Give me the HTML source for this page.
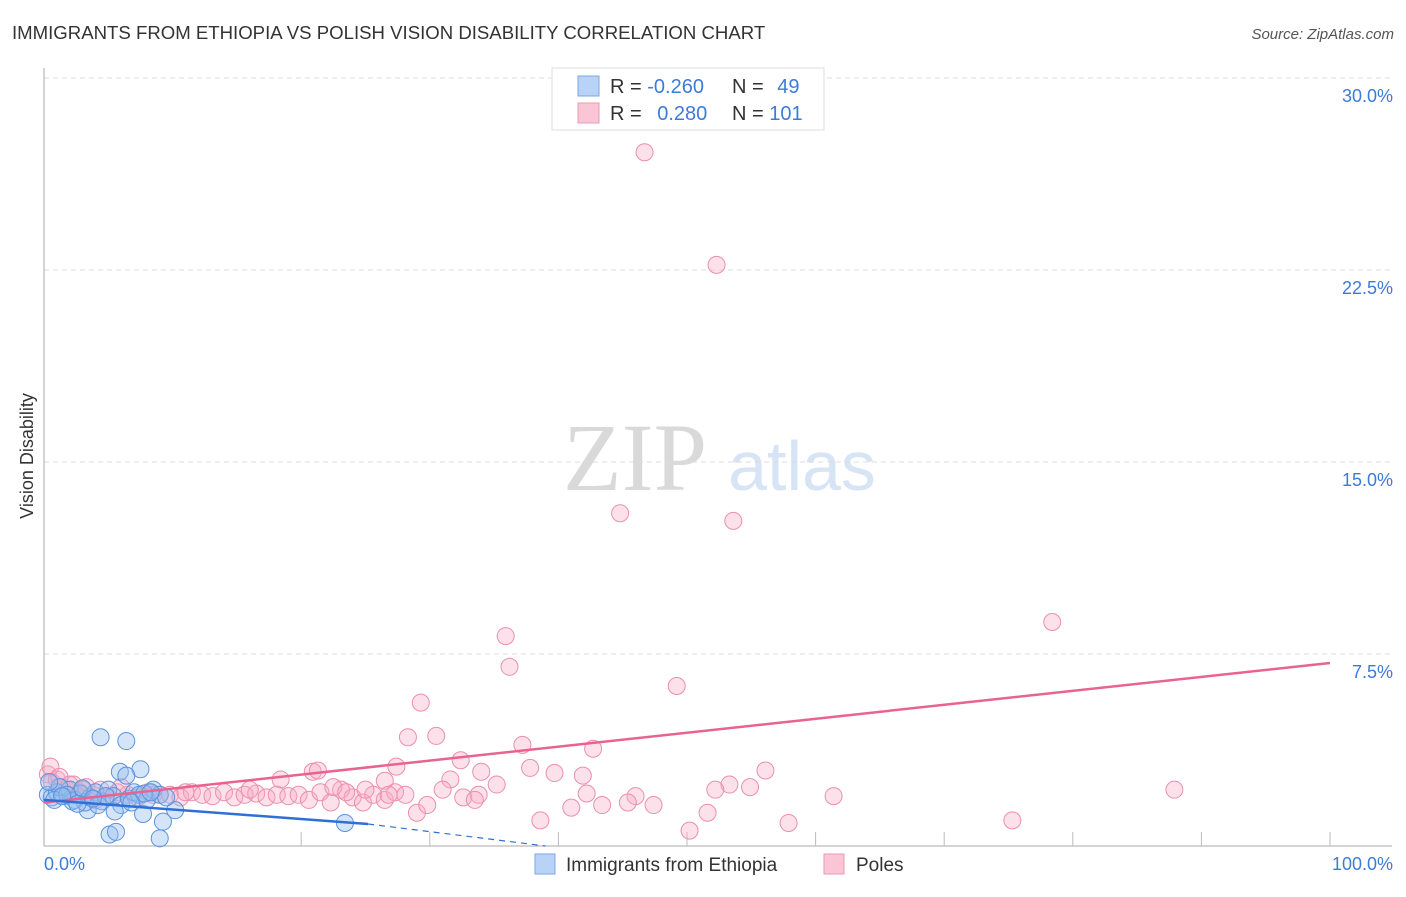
<!DOCTYPE html>
<html><head><meta charset="utf-8"><style>
body{margin:0;background:#fff;font-family:"Liberation Sans",sans-serif;}
</style></head><body>
<svg width="1406" height="892" font-family="Liberation Sans, sans-serif">
<text x="12" y="39" font-size="18.6" fill="#333">IMMIGRANTS FROM ETHIOPIA VS POLISH VISION DISABILITY CORRELATION CHART</text>
<text x="1394" y="39" font-size="15" fill="#555" text-anchor="end" font-style="italic">Source: ZipAtlas.com</text>
<text x="33" y="456" font-size="18" fill="#333" text-anchor="middle" transform="rotate(-90 33 456)">Vision Disability</text>
<g><text x="635" y="490" font-size="96" fill="#d9d9d9" text-anchor="middle" style="font-family:'Liberation Serif',serif">ZIP</text><text x="802" y="490" font-size="70" fill="#d6e4f5" text-anchor="middle">atlas</text></g>
<g id="grid"></g><g id="axes"></g><g id="pts"></g><g id="trend"></g>
<g>
<rect x="552" y="68" width="272" height="62" fill="#fff" stroke="#ddd"/>
<rect x="578" y="76" width="21" height="20" fill="#b8d3f5" stroke="#7aa7e6"/>
<rect x="578" y="103" width="21" height="20" fill="#fac6d6" stroke="#eb98b4"/>
<text x="610" y="93" font-size="20" fill="#333">R = <tspan fill="#3d7bd9">-0.260</tspan></text>
<text x="732" y="93" font-size="20" fill="#333">N = <tspan fill="#3d7bd9" dx="8">49</tspan></text>
<text x="610" y="120" font-size="20" fill="#333">R = <tspan fill="#3d7bd9" dx="10">0.280</tspan></text>
<text x="732" y="120" font-size="20" fill="#333">N = <tspan fill="#3d7bd9">101</tspan></text>
</g>
<g>
<rect x="535" y="854" width="20" height="20" fill="#b8d3f5" stroke="#7aa7e6"/>
<text x="566" y="871" font-size="19" fill="#333">Immigrants from Ethiopia</text>
<rect x="824" y="854" width="20" height="20" fill="#fac6d6" stroke="#eb98b4"/>
<text x="856" y="871" font-size="19" fill="#333">Poles</text>
</g>
</svg>
<script>
const yTicks=[7.5,15,22.5,30];
const yTickLabels=["7.5%","15.0%","22.5%","30.0%"];
const xTickLabels=["0.0%","100.0%"];
const blueX=[4.4,6.4,5.9,7.5,6.4,23.4,9.25,5.1,5.6,9,10.2,7.7,3.4,0.3,0.6,1,1.5,2,2.4,2.8,3.2,3.6,4,4.5,5,5.4,6,6.6,7,7.4,8,8.5,9,9.5,1.2,2.2,3,4.2,4.8,5.5,6.8,7.8,8.3,0.8,1.8,2.6,3.8,0.4,1.4];
const blueY=[4.25,4.1,2.9,3.0,2.75,0.9,0.95,0.45,0.55,0.3,1.4,1.25,1.4,2.0,1.9,2.1,1.95,2.2,1.8,2.05,1.7,1.9,2.1,1.75,2.2,1.95,1.6,1.85,2.1,2.0,1.8,2.2,2.0,1.9,2.3,1.75,2.25,1.6,1.95,1.35,1.7,2.05,2.1,1.8,2.0,1.65,1.85,2.5,1.95];
const pinkX=[46.7,52.3,44.8,53.6,78.4,35.9,36.2,49.2,29.3,28.3,30.5,37.2,42.7,32.4,27.4,37.8,56.1,34,39.7,41.9,20.9,21.3,18.4,31.6,35.2,26.5,53.3,54.9,52.2,87.9,61.4,42.2,46,45.4,47.4,43.4,41,38.6,50.2,51.6,57.9,75.3,29,0.3,0.6,1,1.4,1.8,2.3,2.8,3.3,3.8,4.4,5,5.7,6.5,7.3,8.1,9,9.8,10.6,11.5,12.3,13.1,14,14.8,15.6,16.5,17.3,18.1,19,19.8,20.6,21.5,22.3,23.1,24,24.8,25.6,26.5,27.3,28.1,29.8,31,32.6,33.8,0.5,1.2,2,3,4,2.5,6,8.5,11,16,22.5,23.5,25,26.8,33.5];
const pinkY=[27.1,22.7,13.0,12.7,8.75,8.2,7.0,6.25,5.6,4.25,4.3,3.95,3.8,3.35,3.1,3.05,2.95,2.9,2.85,2.75,2.9,2.95,2.6,2.6,2.4,2.55,2.4,2.3,2.2,2.2,1.95,2.05,1.95,1.7,1.6,1.6,1.5,1.0,0.6,1.3,0.9,1.0,1.3,2.8,2.5,2.6,2.3,2.2,2.4,2.1,2.3,2.0,2.2,1.9,2.1,2.0,1.9,2.1,2.0,2.0,1.9,2.1,2.0,1.95,2.1,1.9,2.0,2.05,1.9,2.0,1.95,2.0,1.8,2.1,1.7,2.2,1.9,1.7,2.0,1.8,2.1,2.0,1.6,2.2,1.9,2.0,3.1,2.7,2.4,2.2,1.8,2.0,2.3,2.0,2.1,2.2,2.3,2.1,2.2,2.0,1.8];
const pinkTrend=[1.7,7.15];
const blueTrend=[1.8,0.86,25.2,39];
const X=v=>44+v*12.86, Y=v=>846-v*25.6;
const NS="http://www.w3.org/2000/svg";
function mk(par,tag,attrs){const e=document.createElementNS(NS,tag);for(const k in attrs)e.setAttribute(k,attrs[k]);document.getElementById(par).appendChild(e);return e;}
yTicks.forEach((t,i)=>{
 const g=mk('grid','line',{x1:44,x2:1392,y1:Y(t),y2:Y(t),stroke:'#ddd','stroke-dasharray':'5,4'});
 
 
 const l=mk('axes','text',{x:1393,y:Y(t)+24,'font-size':18,fill:'#3d7bd9','text-anchor':'end'});
 l.textContent=yTickLabels[i];
 
 
});
const ax=mk('axes','line',{x1:44,x2:44,y1:68,y2:846,stroke:'#aaa'});


const bx=mk('axes','line',{x1:44,x2:1392,y1:846,y2:846,stroke:'#aaa'});


for(let i=2;i<=10;i++){const t=mk('axes','line',{x1:X(i*10),x2:X(i*10),y1:832,y2:846,stroke:'#bbb'});
 
 }
[[0,'start',44],[100,'end',1393]].forEach((d,i)=>{const l=mk('axes','text',{x:d[2],y:870,'font-size':18,fill:'#3d7bd9','text-anchor':d[1]});l.textContent=xTickLabels[i];
 
 });
pinkX.forEach((v,i)=>{const c=mk('pts','circle',{cx:X(v),cy:Y(pinkY[i]),r:8.5,fill:'rgba(248,170,195,0.35)',stroke:'#eb8fae','stroke-width':1});
 
 });
blueX.forEach((v,i)=>{const c=mk('pts','circle',{cx:X(v),cy:Y(blueY[i]),r:8.5,fill:'rgba(150,190,240,0.4)',stroke:'#5b93dd','stroke-width':1});
 
 });
const pt=mk('trend','line',{x1:X(0),y1:Y(pinkTrend[0]),x2:X(100),y2:Y(pinkTrend[1]),stroke:'#e8648f','stroke-width':2.5});


const bt=mk('trend','line',{x1:X(0),y1:Y(blueTrend[0]),x2:X(blueTrend[2]),y2:Y(blueTrend[1]),stroke:'#2f6fd6','stroke-width':2.5});


const bd=mk('trend','line',{x1:X(blueTrend[2]),y1:Y(blueTrend[1]),x2:X(blueTrend[3]),y2:Y(0),stroke:'#2f6fd6','stroke-width':1.2,'stroke-dasharray':'6,5'});


</script>
</body></html>
